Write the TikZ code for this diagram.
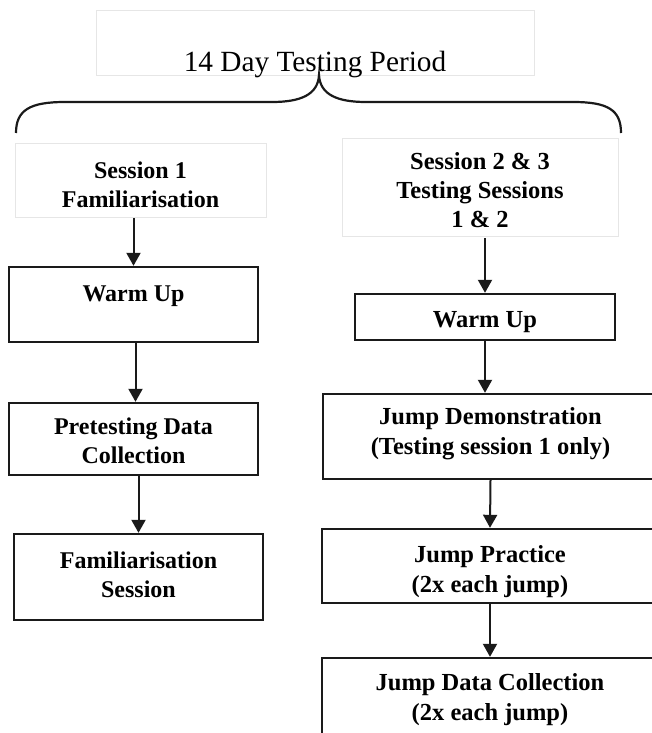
\documentclass[tikz,border=0pt]{standalone}
\usepackage{fontspec}
\setmainfont{Liberation Serif}
\usetikzlibrary{arrows.meta}
\definecolor{faint}{HTML}{E6E6E6}
\definecolor{ink}{HTML}{1A1A1A}
\tikzset{
  stepbox/.style={draw=ink, line width=2.4bp, inner sep=0pt, align=center,
    font=\bfseries\fontsize{24bp}{29bp}\selectfont},
  rbox/.style={stepbox, font=\bfseries\fontsize{24.5bp}{29.5bp}\selectfont},
  hdrbox/.style={draw=faint, line width=0.9bp, inner sep=0pt, align=center,
    font=\bfseries\fontsize{24bp}{29bp}\selectfont},
  rhdrbox/.style={hdrbox, font=\bfseries\fontsize{24.5bp}{29bp}\selectfont},
  arr/.style={draw=ink, line width=2bp, -{Triangle[width=14bp,length=13bp]}},
  bracepath/.style={draw=ink, line width=2.2bp}
}
\begin{document}
\begin{tikzpicture}[x=1bp, y=-1bp]
\useasboundingbox (0,0) rectangle (652,733);
\clip (0,0) rectangle (652,733);
\fill[white] (0,0) rectangle (652,733);

% title
\node[draw=faint, line width=0.9bp, inner sep=0pt, minimum width=438bp,
      text height=62bp, text depth=3bp, font=\fontsize{29.3bp}{33bp}\selectfont]
      (title) at (315,42.5) {14 Day Testing Period};

% brace
\draw[bracepath] (16,133) .. controls (16,110) and (30,102) .. (65,102)
  -- (272,102) .. controls (300,102) and (318,95) .. (319,75)
  .. controls (320,95) and (338,102) .. (366,102)
  -- (573,102) .. controls (608,102) and (621,110) .. (621,133);

% left column
\node[hdrbox, minimum width=251bp, text height=64bp, text depth=10bp] (hL) at (140.5,180)
  {Session 1\\Familiarisation};
\node[stepbox, minimum width=249bp, text height=34bp, text depth=41bp] (wL) at (133.5,304.5)
  {Warm Up};
\node[stepbox, minimum width=249bp, text height=60bp, text depth=12bp] (pL) at (133.5,439)
  {Pretesting Data\\Collection};
\node[stepbox, minimum width=249bp, text height=63bp, text depth=23bp] (fL) at (138.5,577)
  {Familiarisation\\Session};

% right column
\node[rhdrbox, minimum width=276bp, text height=89bp, text depth=9bp] (hR) at (480,187)
  {Session 2 \& 3\\Testing Sessions\\1 \& 2};
\node[rbox, minimum width=260bp, text height=33bp, text depth=13bp] (wR) at (485,317)
  {Warm Up};
\node[rbox, minimum width=335bp, text height=60bp, text depth=25bp] (jd) at (490.5,436.5)
  {Jump Demonstration\\(Testing session 1 only)};
\node[rbox, minimum width=336bp, text height=63bp, text depth=11bp] (jp) at (490,566)
  {Jump Practice\\(2x each jump)};
\node[rbox, minimum width=336bp, text height=62bp, text depth=20bp] (jdc) at (490,699)
  {Jump Data Collection\\(2x each jump)};

% arrows
\draw[arr] ([yshift=-1bp]hL.south -| wL.north) -- (wL.north);
\draw[arr] ([xshift=2bp]wL.south) -- ([xshift=2bp]pL.north);
\draw[arr] (pL.south -| fL.north) -- (fL.north);
\draw[arr] ([yshift=-2bp]hR.south -| wR.north) -- (wR.north);
\draw[arr] (wR.south) -- (jd.north -| wR.south);
\draw[arr] (jd.south) -- (jp.north);
\draw[arr] (jp.south) -- (jdc.north);
\end{tikzpicture}
\end{document}
